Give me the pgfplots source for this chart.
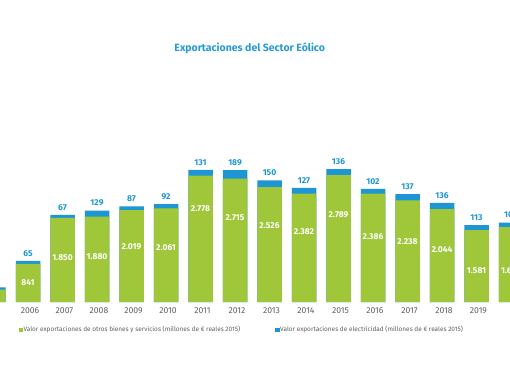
\documentclass[border=0pt]{standalone}
\usepackage{fontspec}
\setmainfont{Fira Sans}
\usepackage{pgfplots}
\usepackage{pgfplotstable}
\pgfplotsset{compat=1.18}
\definecolor{barGreen}{RGB}{160,198,58}
\definecolor{barBlue}{RGB}{30,150,212}
\definecolor{titleBlue}{RGB}{40,155,215}
\definecolor{tickGray}{RGB}{95,95,95}
\pgfplotstableread{
year green blue glab
2005 275 45 137
2006 841 65 420
2007 1850 67 986
2008 1880 129 1001
2009 2019 87 1221
2010 2061 92 1199
2011 2778 131 2064
2012 2715 189 1859
2013 2526 150 1683
2014 2382 127 1558
2015 2789 136 1919
2016 2386 102 1441
2017 2238 137 1331
2018 2044 136 1148
2019 1581 113 693
2020 1645 104 693
}\data
\begin{document}
\begin{tikzpicture}
\useasboundingbox (0,0) rectangle (510pt,382pt);
\clip (0,0) rectangle (510pt,382pt);
\fill[white] (0,0) rectangle (510pt,382pt);
\begin{axis}[
  at={(0pt,80pt)}, anchor=south west,
  scale only axis, width=510pt, height=181.8pt,
  xmin=2005.1884, xmax=2019.971,
  ymin=0, ymax=4000,
  axis line style={draw=none},
  major tick length=0pt,
  ytick=\empty,
  xtick={2005,...,2020},
  xticklabel style={font=\fontsize{8.6}{10}\selectfont, text=tickGray, yshift=-2.5pt, xshift=2pt},
  /pgf/number format/assume math mode=true,
  /pgf/number format/1000 sep={},
  clip=false,
  title={Exportaciones del Sector Eólico},
  title style={at={(rel axis cs:0.4896,1.3614)}, anchor=center, font=\fontsize{10.5}{12}\selectfont\bfseries, text=titleBlue},
  legend columns=2,
  legend style={at={(rel axis cs:0.036,-0.152)}, anchor=west, draw=none, fill=none,
    font=\fontsize{6.45}{8}\selectfont, text=tickGray,
    inner sep=0pt, nodes={inner sep=1pt}},
  legend image code/.code={\fill[#1] (0pt,-1.8pt) rectangle (3.6pt,1.8pt);},
]
\addlegendimage{barGreen}
\addlegendentry{Valor exportaciones de otros bienes y servicios (millones de € reales 2015)\rule{34pt}{0pt}}
\addlegendimage{barBlue}
\addlegendentry{Valor exportaciones de electricidad (millones de € reales 2015)}
\addplot[ybar, bar width=24.5pt, bar shift=0pt, fill=barBlue, draw=none, forget plot,
  nodes near coords, point meta=explicit,
  nodes near coords style={font=\fontsize{8.5}{10}\selectfont\bfseries, text=barBlue, anchor=south, yshift=1pt,
    /pgf/number format/1000 sep={.}}]
  table[x=year, y expr=\thisrow{green}+\thisrow{blue}, meta=blue] {\data};
\addplot[ybar, bar width=24.5pt, bar shift=0pt, fill=barGreen, draw=none, forget plot]
  table[x=year, y=green] {\data};
\addplot[draw=none, mark=none, forget plot,
  nodes near coords, point meta=explicit,
  nodes near coords style={font=\fontsize{8.5}{10}\selectfont\bfseries, text=white, anchor=center,
    /pgf/number format/1000 sep={.}}]
  table[x=year, y=glab, meta=green] {\data};
\end{axis}
\end{tikzpicture}
\end{document}
